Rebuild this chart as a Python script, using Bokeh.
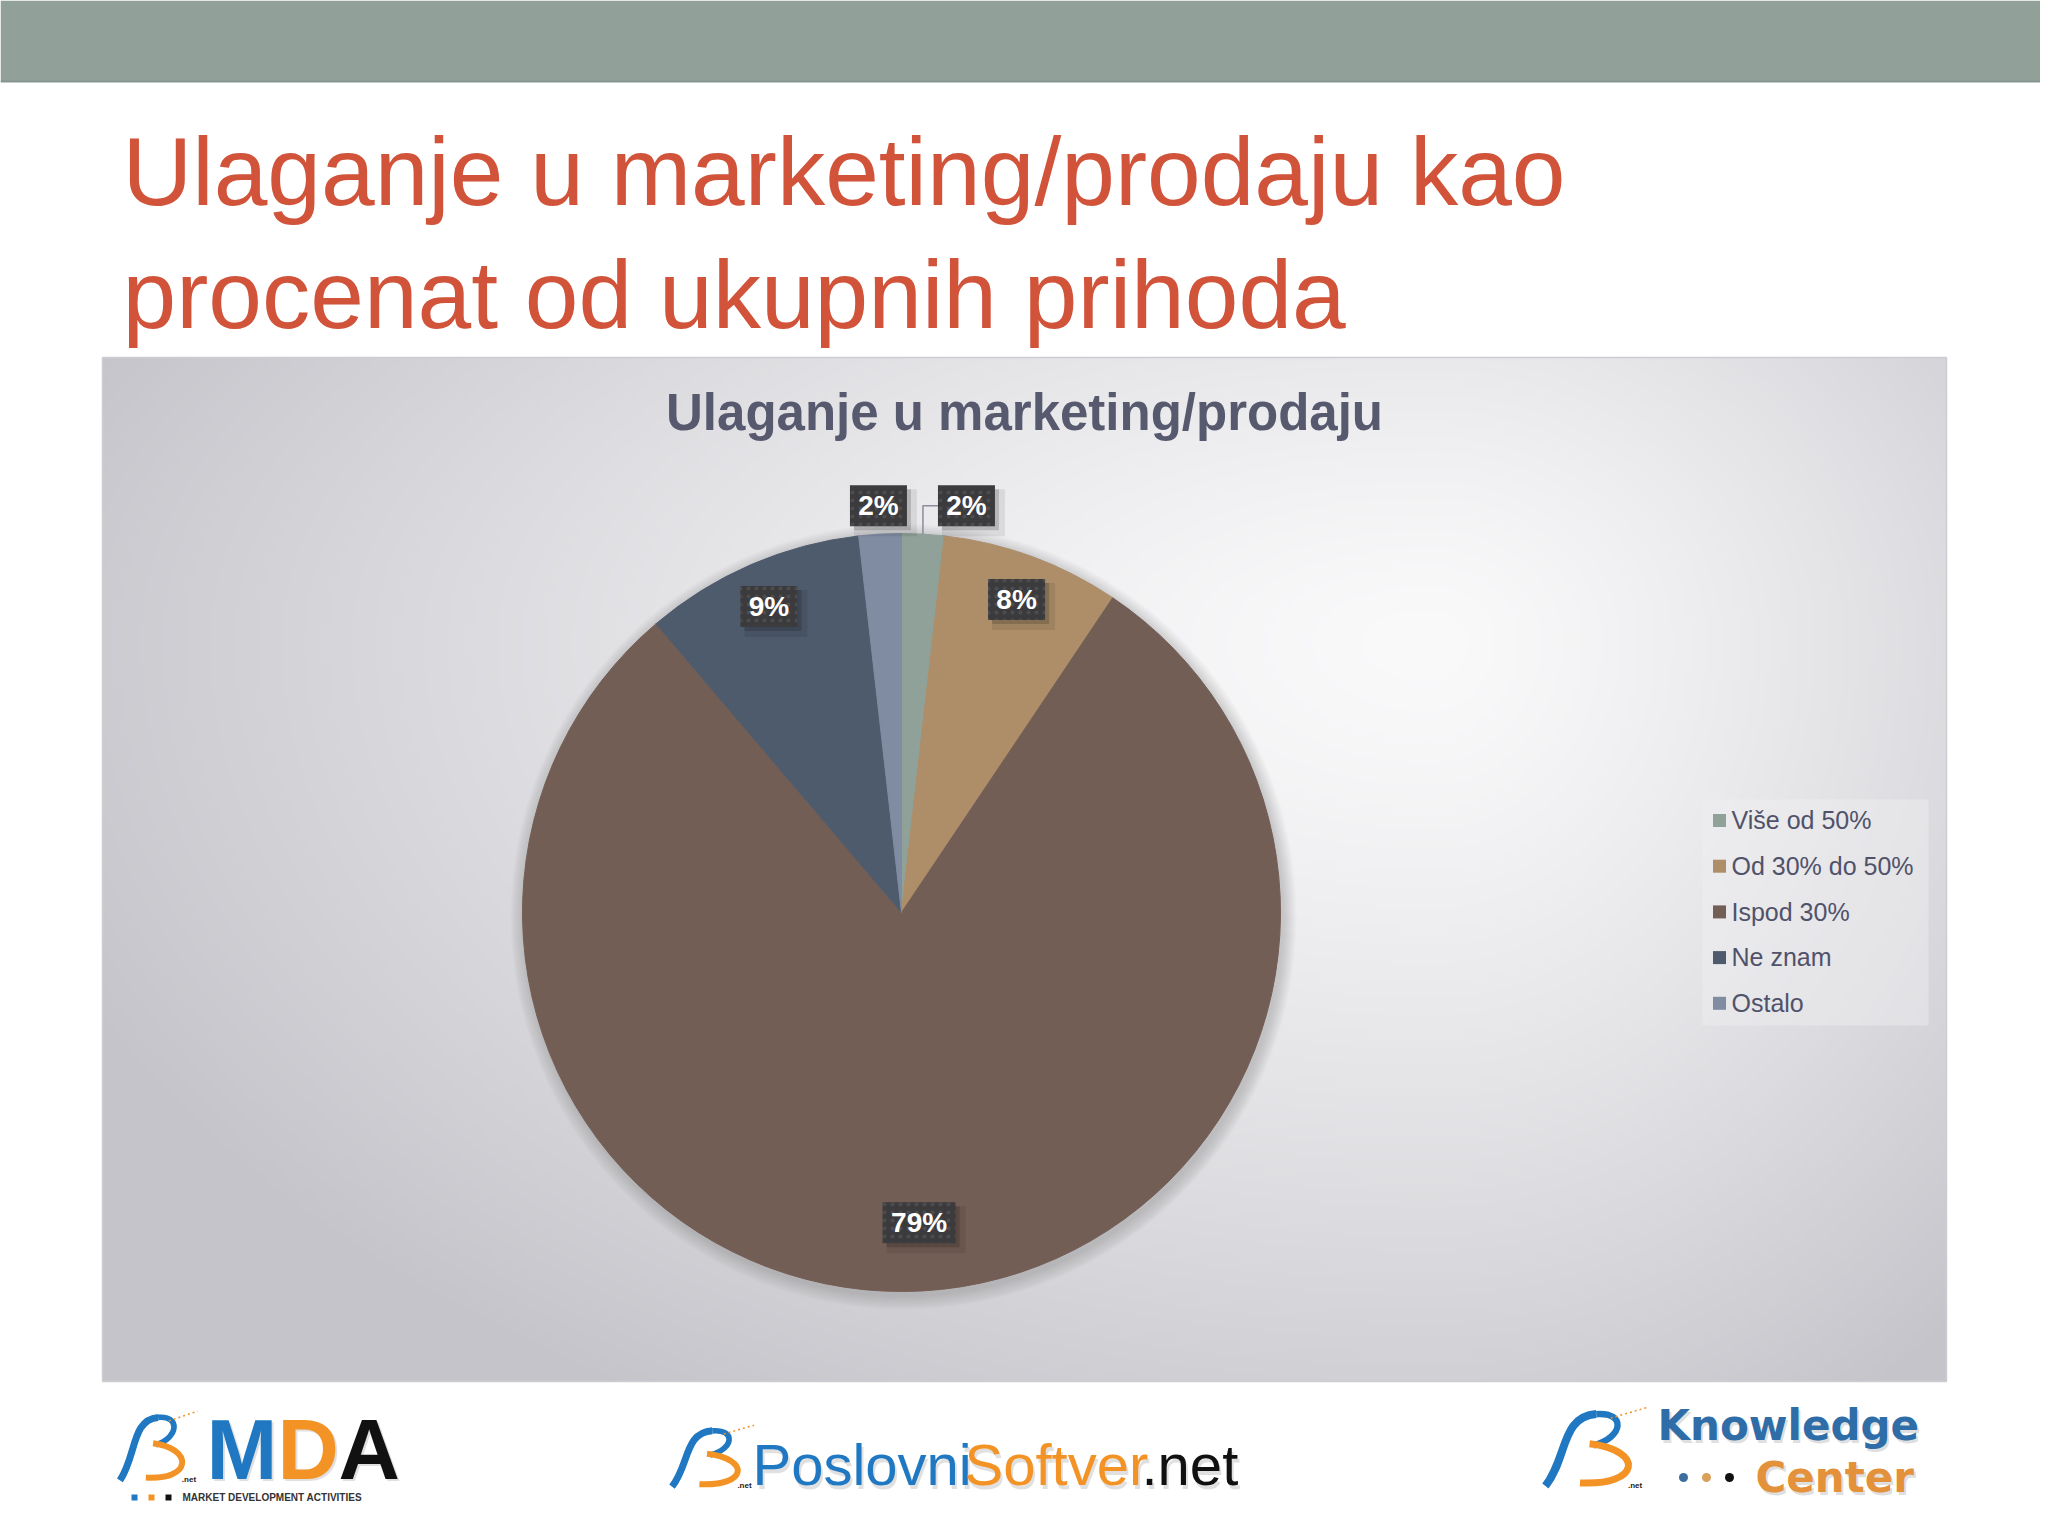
import numpy as np
from bokeh.plotting import figure
from bokeh.models import Range1d
from bokeh.core.properties import value
from bokeh.embed import file_html
from bokeh.resources import INLINE

# ---------------- data ----------------
categories = ["Više od 50%", "Od 30% do 50%", "Ispod 30%", "Ne znam", "Ostalo"]
shares = [1.8, 7.6, 79.3, 9.4, 1.8]
colors = ["#8FA198", "#AD8E68", "#735E55", "#4E5B6C", "#7F8CA2"]
title_lines = ["Ulaganje u marketing/prodaju kao", "procenat od ukupnih prihoda"]
chart_title = "Ulaganje u marketing/prodaju"

# ---------------- canvas (reference pixel coords, y flipped) ----------------
W, H = 2048, 1536


def Y(y):
    return H - y


p = figure(width=2040, height=1528, x_range=Range1d(0, 2040), y_range=Range1d(8, 1536),
           output_backend="svg", toolbar_location=None, min_border=0,
           x_axis_location=None, y_axis_location=None)
p.grid.visible = False
p.outline_line_color = None
p.background_fill_color = "white"
p.border_fill_color = "white"

SANS = value("Liberation Sans")
BASE_FIX = 0.37  # empirical baseline correction (fraction of font size)


def T(xs, ybs, texts, size, **kw):
    kw.setdefault("text_font", SANS)
    p.text(x=list(xs), y=[Y(yb - BASE_FIX * size) for yb in ybs], text=list(texts),
           text_font_size=f"{size}px", text_baseline="alphabetic", **kw)


# top bar
p.quad(left=0, right=W, bottom=Y(81), top=Y(0), fill_color="#91A199", line_color=None)
p.segment(x0=0, y0=Y(81), x1=W, y1=Y(81), line_color="#86958D", line_width=2)

# slide title
T([122, 122], [207, 330], title_lines, 96.5, text_color="#D0533A", text_align="left")

# ---------------- chart area background (radial gradient) ----------------
ax0, ay0, aw, ah = 102, 357, 1844, 1024
step = 4
nx, ny = aw // step, ah // step
gxs = ax0 + (np.arange(nx) + 0.5) * step
gys = ay0 + (np.arange(ny) + 0.5) * step
GX, GY = np.meshgrid(gxs, gys)
gcx, gcy = 1430, 640
rx = np.where(GX < gcx, 1350.0, 740.0)
ry = np.where(GY < gcy, 620.0, 820.0)
d = np.sqrt(((GX - gcx) / rx) ** 2 + ((GY - gcy) / ry) ** 2)
t = np.clip(d / 1.1, 0, 1) ** 1.3
light = np.array([250, 250, 251])
dark = np.array([197, 196, 202])
rgb = light[None, None, :] * (1 - t[..., None]) + dark[None, None, :] * t[..., None]
arr = np.empty((ny, nx, 4), dtype=np.uint8)
arr[..., :3] = rgb.astype(np.uint8)
arr[..., 3] = 255
img = arr.view(np.uint32).reshape(ny, nx)[::-1]
p.image_rgba(image=[img], x=ax0, y=Y(ay0 + ah), dw=aw, dh=ah)
p.quad(left=ax0, right=ax0 + aw, bottom=Y(ay0 + ah), top=Y(ay0), fill_color=None,
       line_color="#CDCDD1", line_width=1.5)

# chart title
T([1024], [431], [chart_title], 51, text_font_style="bold", text_color="#575A6E",
  text_align="center")

# ---------------- pie ----------------
cx, cy, R = 901, 912, 379
vals = np.array(shares, dtype=float)
frac = vals / vals.sum()
cum = np.concatenate([[0.0], np.cumsum(frac)])
start = np.pi / 2 - 2 * np.pi * cum[:-1]
end = np.pi / 2 - 2 * np.pi * cum[1:]

for k in range(1, 15):
    p.circle(x=[cx + 2], y=[Y(cy + 4)], radius=R + k, fill_color="#55555f", fill_alpha=0.02,
             line_color=None)

p.wedge(x=cx, y=Y(cy), radius=R, start_angle=start, end_angle=end, direction="clock",
        fill_color=colors, line_color=colors, line_width=1)

# ---------------- data labels ----------------
labels = [f"{round(s)}%" for s in shares]
theta = 2 * np.pi * (cum[:-1] + frac / 2)  # clockwise from top
box_h = 41
box_w = [16 * len(s) + 25 for s in labels]
lx, ly = [], []
for i, f in enumerate(frac):
    if f >= 0.05:
        rf = 0.88 if f < 0.5 else 0.82
    else:
        rf = 1.075
    lx.append(cx + rf * R * np.sin(theta[i]))
    ly.append(cy - rf * R * np.cos(theta[i]))
# resolve overlap of outside labels (push right)
outside = sorted([i for i, f in enumerate(frac) if f < 0.05], key=lambda i: lx[i])
moved = set()
for a, b in zip(outside[:-1], outside[1:]):
    need = lx[a] + (box_w[a] + box_w[b]) / 2 + 31
    if lx[b] < need:
        lx[b] = need
        moved.add(b)

for i in moved:
    rim_x = cx + R * np.sin(theta[i])
    rim_y = cy - R * np.cos(theta[i])
    left = lx[i] - box_w[i] / 2
    p.line(x=[left, rim_x, rim_x], y=[Y(ly[i]), Y(ly[i]), Y(rim_y)], line_color="#8C8C9C",
           line_width=1.5)

lyu = [Y(v) for v in ly]
p.rect(x=[v + 7 for v in lx], y=[v - 7 for v in lyu], width=[w + 6 for w in box_w], height=box_h + 6,
       fill_color="#000000", fill_alpha=0.08, line_color=None)
p.rect(x=[v + 4 for v in lx], y=[v - 4 for v in lyu], width=box_w, height=box_h,
       fill_color="#000000", fill_alpha=0.16, line_color=None)
p.rect(x=lx, y=lyu, width=box_w, height=box_h, fill_color="#3B3A3C", line_color=None,
       hatch_pattern="dot", hatch_color="#626264", hatch_scale=8, hatch_alpha=0.45, hatch_weight=1.2)
T(lx, [v + 10 for v in ly], labels, 28, text_font_style="bold", text_color="white",
  text_align="center")

# ---------------- legend ----------------
p.quad(left=1702, right=1928, bottom=Y(1025), top=Y(799), fill_color="#F0F0F2", fill_alpha=0.45,
       line_color=None)
leg_y = [820 + 45.7 * i for i in range(len(categories))]
p.rect(x=[1719] * len(categories), y=[Y(v) for v in leg_y], width=13, height=13,
       fill_color=colors, line_color=None)
T([1731] * len(categories), [v + 9 for v in leg_y], categories, 25, text_color="#50526A",
  text_align="left")

# ---------------- logos ----------------
BLUE, ORANGE = "#1F78C1", "#F39325"


def swoosh(x0, y0, w, h, bw=7, ow=6):
    def P(u, v):
        return x0 + u * w, Y(y0 + v * h)
    segs = [
        ((0.02, 0.97), (0.25, 0.62), (0.18, 0.10), (0.55, 0.07), BLUE, bw),
        ((0.55, 0.07), (0.86, 0.04), (0.84, 0.36), (0.52, 0.46), BLUE, bw * 0.8),
        ((0.48, 0.44), (1.05, 0.52), (1.02, 0.97), (0.38, 0.93), ORANGE, ow),
    ]
    for a, b, c, e, col, lw in segs:
        (xa, ya), (xb, yb), (xc, yc), (xe, ye) = P(*a), P(*b), P(*c), P(*e)
        p.bezier(x0=[xa], y0=[ya], x1=[xe], y1=[ye], cx0=[xb], cy0=[yb], cx1=[xc], cy1=[yc],
                 line_color=col, line_width=lw)
    xa, ya = P(0.70, 0.12)
    xe, ye = P(1.10, -0.02)
    p.segment(x0=[xa], y0=[ya], x1=[xe], y1=[ye], line_color=ORANGE, line_width=1.5, line_dash="2 3")
    xn = x0 + 0.88 * w
    T([xn], [y0 + h], [".net"], 8, text_font_style="bold", text_color="#222222")


# MDA
swoosh(118, 1412, 72, 70)
mda = [("M", 206, BLUE), ("D", 277, ORANGE), ("A", 338, "#111111")]
for ch, xx, col in mda:
    T([xx + 2], [1482], [ch], 85, text_font_style="bold", text_color="#000000", text_alpha=0.12)
    T([xx], [1480], [ch], 85, text_font_style="bold", text_color=col)
p.scatter(x=[134, 151, 168], y=[Y(1497)] * 3, size=6, marker="square",
          fill_color=[BLUE, ORANGE, "#111111"], line_color=None)
T([182], [1501], ["MARKET DEVELOPMENT ACTIVITIES"], 10, text_font_style="bold", text_color="#333333")

# PoslovniSoftver.net
swoosh(670, 1426, 76, 62)
parts = [("Poslovni", 752, BLUE), ("Softver", 964, ORANGE), (".net", 1141, "#111111")]
for s, xx, col in parts:
    T([xx + 2], [1489], [s], 58, text_color="#000000", text_alpha=0.12)
    T([xx], [1485], [s], 58, text_color=col)

# Knowledge Center
swoosh(1543, 1408, 96, 80, bw=8, ow=7)
DJV = value("DejaVu Sans")
for s, xx, yy, col in [("Knowledge", 1657, 1441, "#2E6DA8"), ("Center", 1755, 1493, "#E3913B")]:
    T([xx + 2], [yy + 3], [s], 42, text_font=DJV, text_font_style="bold", text_color="#000000",
      text_alpha=0.15)
    T([xx], [yy], [s], 42, text_font=DJV, text_font_style="bold", text_color=col)
p.scatter(x=[1683, 1706, 1729], y=[Y(1477)] * 3, size=9, marker="circle",
          fill_color=["#3D6E9E", "#D9A05A", "#111111"], line_color=None)

open("out.html", "w").write(file_html(p, INLINE))
